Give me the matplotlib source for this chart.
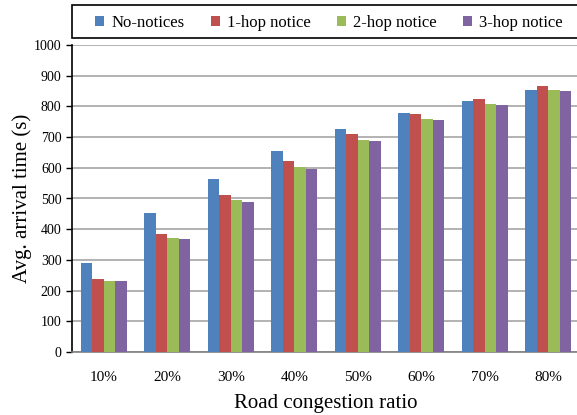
import numpy as np
import matplotlib
matplotlib.use("Agg")
import matplotlib.pyplot as plt
from matplotlib.patches import Patch, Rectangle

# Data
ratios = ["10%", "20%", "30%", "40%", "50%", "60%", "70%", "80%"]
no_notices = [291, 452, 563, 655, 727, 777, 816, 852]
hop1_notice = [237, 384, 511, 622, 709, 774, 824, 865]
hop2_notice = [231, 372, 494, 603, 692, 759, 809, 852]
hop3_notice = [231, 368, 488, 597, 686, 755, 806, 849]

series_names = ["No-notices", "1-hop notice", "2-hop notice", "3-hop notice"]
colors = ["#4F81BD", "#C0504D", "#9BBB59", "#8064A2"]

plt.rcParams["font.family"] = ["Liberation Serif", "DejaVu Serif"]

fig = plt.figure(figsize=(5.77, 4.15), dpi=100)
ax = fig.add_axes([72 / 577, 63 / 415, 508 / 577, 307 / 415])

x = np.arange(len(ratios))
width = 0.18
all_series = [no_notices, hop1_notice, hop2_notice, hop3_notice]
for i, (vals, col) in enumerate(zip(all_series, colors)):
    ax.bar(x + (i - 1.5) * width, vals, width, color=col, zorder=3)

ax.set_xlim(-0.5, 7.5)
ax.set_ylim(0, 1000)
ax.set_yticks(range(0, 1001, 100))
ax.set_xticks(x)
ax.set_xticklabels(ratios, fontsize=11)
ax.tick_params(axis="y", labelsize=10, length=4, direction="out", width=1)
ax.tick_params(axis="x", length=0, pad=14)
ax.yaxis.grid(True, color="#a6a6a6", linewidth=1.2, zorder=0)
ax.set_axisbelow(True)

for side in ["top", "right"]:
    ax.spines[side].set_visible(False)
ax.spines["left"].set_linewidth(1.2)
ax.spines["bottom"].set_linewidth(1.2)
ax.spines["bottom"].set_color("#808080")

ax.set_xlabel("Road congestion ratio", fontsize=15, labelpad=7)
ax.set_ylabel("Avg. arrival time (s)", fontsize=15, labelpad=1.5)

# legend box spanning the top of the figure
fig.patches.append(Rectangle((72 / 577, 1 - 38 / 415), 510 / 577, 33 / 415,
                             transform=fig.transFigure, facecolor="white",
                             edgecolor="black", linewidth=1.2))
handles = [Patch(facecolor=c, edgecolor="none") for c in colors]
leg = fig.legend(
    handles,
    series_names,
    loc="center",
    bbox_to_anchor=(329 / 577, 1 - 23 / 415),
    ncol=4,
    fontsize=12,
    handlelength=0.55,
    handleheight=0.55,
    handletextpad=0.4,
    columnspacing=1.6,
    frameon=False,
)

plt.savefig("out.png", dpi=100)
